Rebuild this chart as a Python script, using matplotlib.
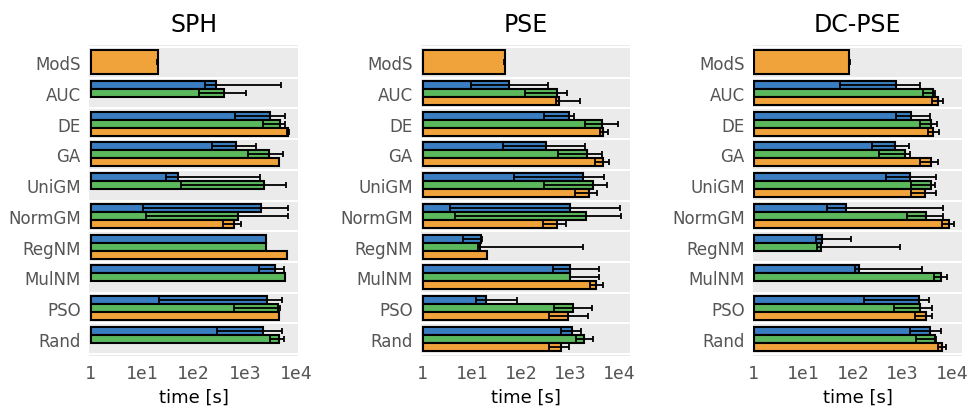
import numpy as np
import matplotlib
matplotlib.use('Agg')
import matplotlib.pyplot as plt

nan = np.nan

# Categories (ModS only has a single orange bar)
labels = ['ModS', 'AUC', 'DE', 'GA', 'UniGM', 'NormGM', 'RegNM', 'MulNM', 'PSO', 'Rand']
titles = ['SPH', 'PSE', 'DC-PSE']
tick_vals = [1, 10, 100, 1000, 10000]
tick_labels = ['1', '1e1', '1e2', '1e3', '1e4']

# ModS times (value, low, high)
mods_sph = [20.2, 19.6, 20.8]
mods_pse = [46.8, 45.5, 48.0]
mods_dc = [85.0, 83.0, 87.0]

# SPH
sph_blue = [269, 3130, 680, 51, 2050, 2570, 3800, 2700, 2215]
sph_blue_lo = [167, 630, 229, 29.4, 10.6, nan, 1880, 21.4, 286]
sph_blue_hi = [5130, 5940, 1650, 1960, 7020, nan, 5690, 5190, 5190]
sph_green = [385, 4900, 2990, 2350, 744, 2570, 5940, 4350, 4550]
sph_green_lo = [129, 2290, 1170, 56, 11.8, nan, nan, 604, 3030]
sph_green_hi = [1030, 5940, 5600, 6200, 7020, nan, nan, 4800, 5870]
sph_orange = [nan, 6800, 4620, nan, 613, 6500, nan, 4620, nan]
sph_orange_lo = [nan, 6500, nan, nan, 374, nan, nan, nan, nan]
sph_orange_hi = [nan, 7100, nan, nan, 850, nan, nan, nan, nan]

# PSE
pse_blue = [57, 940, 325, 1810, 1000, 15.2, 1000, 19.5, 1100]
pse_blue_lo = [9.5, 296, 43.6, 73.5, 3.6, 6.5, 445, 12, 660]
pse_blue_hi = [357, 1220, 1990, 5000, 10240, 16.2, 3890, 83, 1700]
pse_green = [552, 4420, 2180, 2990, 2090, 14.7, 1010, 1170, 1900]
pse_green_lo = [123, 2050, 577, 300, 4.55, 13.6, 1000, 470, 1350]
pse_green_hi = [881, 9600, 4560, 5750, 10800, 1840, 3890, 2760, 2950]
pse_orange = [605, 4780, 4780, 2400, 537, 20.4, 3430, 923, 646]
pse_orange_lo = [511, 4100, 3270, 1250, 277, nan, 2510, 370, 370]
pse_orange_hi = [1600, 5870, 6150, 3600, 841, nan, 4660, 2290, 940]

# DC-PSE
dc_blue = [750, 1490, 704, 1440, 74, 23.8, 133, 2180, 3550]
dc_blue_lo = [55, 750, 246, 465, 30.5, 18.3, 112, 164, 1420]
dc_blue_hi = [2260, 3550, 1350, 4810, 6450, 93, 2470, 3470, 5900]
dc_green = [4190, 3780, 1100, 3780, 2990, 22.4, 5900, 2220, 4470]
dc_green_lo = [2640, 2220, 330, 1460, 1210, 18.8, 4360, 677, 1880]
dc_green_hi = [4470, 5040, 1420, 4560, 6450, 876, 7800, 3850, 4770]
dc_orange = [5130, 4150, 3720, 2850, 8500, nan, nan, 2990, 6300]
dc_orange_lo = [3890, 3330, 2290, 1490, 6200, nan, nan, 1760, 5260]
dc_orange_hi = [6400, 5450, 5130, 4810, 10700, nan, nan, 4000, 7420]

panels = [
    (mods_sph, [(sph_blue, sph_blue_lo, sph_blue_hi), (sph_green, sph_green_lo, sph_green_hi),
                (sph_orange, sph_orange_lo, sph_orange_hi)], (0.927, 10840)),
    (mods_pse, [(pse_blue, pse_blue_lo, pse_blue_hi), (pse_green, pse_green_lo, pse_green_hi),
                (pse_orange, pse_orange_lo, pse_orange_hi)], (0.923, 16600)),
    (mods_dc, [(dc_blue, dc_blue_lo, dc_blue_hi), (dc_green, dc_green_lo, dc_green_hi),
               (dc_orange, dc_orange_lo, dc_orange_hi)], (0.968, 15850)),
]

colors = ['#3a7ec1', '#5cb85c', '#f0a33a']
offsets = [-0.26, 0.0, 0.26]
h = 0.26

fig = plt.figure(figsize=(9.7, 4.1), dpi=100)
lefts = [0.0918, 0.434, 0.7763]

for k, (mods, series, xlim) in enumerate(panels):
    ax = fig.add_axes([lefts[k], 0.129, 0.2155, 0.759])
    ax.set_facecolor('#ebebeb')
    ax.set_xscale('log')
    for b in np.arange(-0.5, 10.0, 1.0):
        ax.axhline(b, color='white', lw=1.5, zorder=1)

    # ModS bar
    ax.barh(0, mods[0] - 1, left=1, height=3 * h, color=colors[2], edgecolor='black',
            linewidth=1.5, zorder=2)
    ax.errorbar([mods[0]], [0], xerr=[[mods[0] - mods[1]], [mods[2] - mods[0]]],
                fmt='none', ecolor='black', elinewidth=1.3, capsize=2, capthick=1.3, zorder=3)

    ys = np.arange(1, 10)
    for j, (vals, lo, hi) in enumerate(series):
        vals = np.array(vals, float)
        lo = np.array(lo, float)
        hi = np.array(hi, float)
        m = np.isfinite(vals)
        ax.barh(ys[m] + offsets[j], vals[m] - 1, left=1, height=h, color=colors[j],
                edgecolor='black', linewidth=1.5, zorder=2)
        e = m & np.isfinite(lo) & np.isfinite(hi)
        ax.errorbar(vals[e], ys[e] + offsets[j], xerr=[vals[e] - lo[e], hi[e] - vals[e]],
                    fmt='none', ecolor='black', elinewidth=1.3, capsize=2, capthick=1.3, zorder=3)

    ax.set_xlim(*xlim)
    ax.set_ylim(9.565, -0.565)
    ax.set_yticks(range(10))
    ax.set_yticklabels(labels, fontsize=12, color='#555555')
    ax.set_xticks(tick_vals)
    ax.set_xticklabels(tick_labels, fontsize=13, color='#555555', family='DejaVu Sans Mono')
    ax.xaxis.set_minor_locator(matplotlib.ticker.NullLocator())
    ax.tick_params(length=0, pad=6)
    for s in ax.spines.values():
        s.set_visible(False)
    ax.set_xlabel('time [s]', fontsize=13)
    ax.set_title(titles[k], fontsize=17, pad=10)

fig.savefig('out.png', dpi=100)
